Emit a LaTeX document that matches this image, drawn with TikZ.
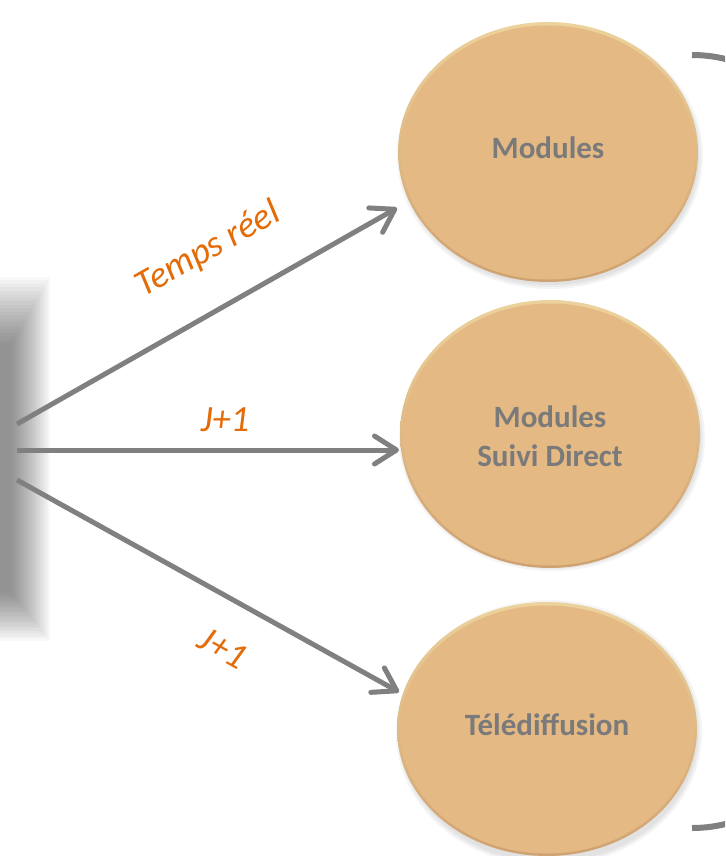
\documentclass[tikz,border=0pt]{standalone}
\usepackage{fontspec}
\setmainfont{Carlito}
\usetikzlibrary{arrows.meta,calc,shapes.geometric}
\definecolor{peach}{HTML}{E5B984}
\definecolor{rimtop}{HTML}{ECD29C}
\definecolor{rimbot}{HTML}{CFA271}
\definecolor{arrowgray}{HTML}{808080}
\definecolor{txtgray}{HTML}{7A7A7A}
\definecolor{lblorange}{HTML}{E36C09}
\begin{document}
\begin{tikzpicture}[x=1pt,y=-1pt,
  conn/.style={draw=arrowgray, line width=5pt, -{Straight Barb[length=22pt,width=28pt,round]}},
  lbl/.style={font=\fontsize{37}{40}\selectfont\itshape, text=lblorange, inner sep=0pt},
  ntxt/.style={font=\fontsize{31}{39}\selectfont\bfseries, text=txtgray, align=center, inner sep=0pt},
  bubble/.style={ellipse, minimum width=300pt, minimum height=260pt, inner sep=0pt,
    top color=rimtop, bottom color=rimbot, draw=none}]
\useasboundingbox (0,0) rectangle (725,856);
\clip (0,0) rectangle (725,856);

% blurred block on the left
\foreach \k in {0,...,19}
  \fill[black, opacity=0.028] (-30,{343-3.5*\k}) rectangle ({12+2*\k},{593+2.5*\k});

% drop shadows of the bubbles
\foreach \cx/\cy in {548/152, 550/434, 547/729}
  \foreach \r in {0,2,4}
    \fill[black, opacity=0.04] ({\cx+2},{\cy+4}) ellipse [x radius={149+\r}, y radius={129+\r}];

% bubbles
\node[bubble] (m1) at (548,152) {};
\node[bubble, minimum height=268pt] (m2) at (550,434) {};
\node[bubble, minimum height=254pt] (m3) at (547,729) {};
\fill[peach] ($(m1.center)+(0,0.5)$) ellipse [x radius=147, y radius=127];
\fill[peach] ($(m2.center)+(0,0.5)$) ellipse [x radius=147, y radius=131];
\fill[peach] ($(m3.center)+(0,0.5)$) ellipse [x radius=147, y radius=124];

% bubble texts
\node[ntxt] (t1) at ($(m1.center)+(0,-4)$) {Modules};
\node[ntxt] (t2) at ($(m2.center)+(0,2)$) {Modules\\Suivi Direct};
\node[ntxt] (t3) at ($(m3.center)+(0,-4)$) {Télédiffusion};

% connector ends
\coordinate (s1) at (17,424);
\coordinate (s2) at (17,450);
\coordinate (s3) at (17,480);
\coordinate (e1) at (397,208);
\coordinate (e2) at (399,450);
\coordinate (e3) at (399,692);

\draw[conn] (s1) -- (e1);
\draw[conn] (s2) -- (e2);
\draw[conn] (s3) -- (e3);

% labels
\node[lbl, rotate=29.5] (l1) at (208,250) {Temps réel};
\node[lbl] (l2) at (225,420) {J+1};
\node[lbl, rotate=-29] (l3) at (223,648) {J+1};

% bracket on the right
\coordinate (bt) at (692,55);
\coordinate (bb) at (692,828);
\draw[arrowgray, line width=6pt] (bt) .. controls +(275,0) and +(275,0) .. (bb);
\end{tikzpicture}
\end{document}
